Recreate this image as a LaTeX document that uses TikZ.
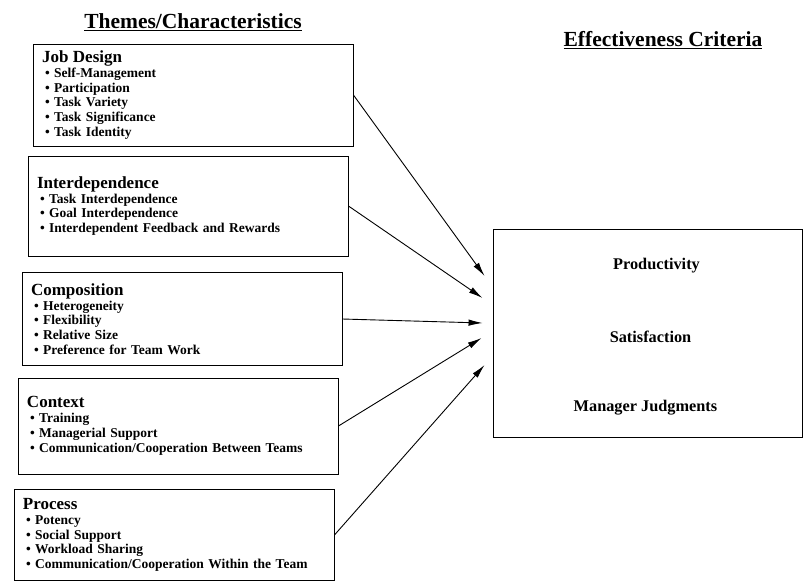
\documentclass[tikz,border=0pt]{standalone}
\usepackage{fontspec}
\setmainfont{Liberation Serif}
\usetikzlibrary{arrows.meta,positioning,calc}

\tikzset{
  themebox/.style={draw, line width=0.9pt, text width=302pt, inner xsep=9pt,
    inner ysep=4pt, align=left, font=\bfseries\fontsize{13.5}{14.8}\selectfont},
  critbox/.style={draw, line width=0.9pt, minimum width=309pt, minimum height=208pt},
  crittext/.style={font=\bfseries\fontsize{16.3}{18}\selectfont},
  title/.style={font=\bfseries\fontsize{21.5}{24}\selectfont},
  conn/.style={line width=0.9pt, -{Latex[length=14pt,width=6.5pt]}}
}
\newcommand{\hd}[1]{{\fontsize{17}{19}\selectfont #1}}
\newcommand{\itm}[1]{\hspace*{3pt}\textbullet\ #1}

\begin{document}
\begin{tikzpicture}[x=1pt,y=-1pt]
\useasboundingbox (0,0) rectangle (803,587);

% titles
\node[title] (ttheme) at (193,22) {\underline{Themes/Characteristics}};
\node[title] (tcrit) at (663,40) {\underline{Effectiveness Criteria}};

% left column
\node[themebox, minimum height=102pt] (job) at (193,95)
  {\hd{Job Design}\\ \itm{Self-Management}\\ \itm{Participation}\\
   \itm{Task Variety}\\ \itm{Task Significance}\\ \itm{Task Identity}};
\node[themebox, minimum height=100pt] (inter) at (188,206)
  {\hd{Interdependence}\\ \itm{Task Interdependence}\\ \itm{Goal Interdependence}\\
   \itm{Interdependent Feedback and Rewards}};
\node[themebox, minimum height=93pt] (comp) at (182,319)
  {\hd{Composition}\\ \itm{Heterogeneity}\\ \itm{Flexibility}\\
   \itm{Relative Size}\\ \itm{Preference for Team Work}};
\node[themebox, minimum height=96pt] (ctx) at (178,426)
  {\hd{Context}\\ \itm{Training}\\ \itm{Managerial Support}\\
   \itm{Communication/Cooperation Between Teams}};
\node[themebox, minimum height=91pt] (proc) at (174,535)
  {\hd{Process}\\ \itm{Potency}\\ \itm{Social Support}\\
   \itm{Workload Sharing}\\ \itm{Communication/Cooperation Within the Team}};

% right box
\node[critbox] (crit) at (647.5,333) {};
\node[crittext] (prod) at ($(crit.center)+(9,-67)$) {Productivity};
\node[crittext] (sat) at ($(crit.center)+(3,4)$) {Satisfaction};
\node[crittext] (mgr) at ($(crit.center)+(-2,75)$) {Manager Judgments};

% arrow ends
\coordinate (ejob) at ($(crit.west)+(-8,-57)$);
\coordinate (einter) at ($(crit.west)+(-10,-35)$);
\coordinate (ecomp) at ($(crit.west)+(-10,-10)$);
\coordinate (ectx) at ($(crit.west)+(-11,5)$);
\coordinate (eproc) at ($(crit.west)+(-8,32)$);

\draw[conn] (job.east) -- (ejob);
\draw[conn] (inter.east) -- (einter);
\draw[conn] (comp.east) -- (ecomp);
\draw[conn] (ctx.east) -- (ectx);
\draw[conn] (proc.east) -- (eproc);
\end{tikzpicture}
\end{document}
